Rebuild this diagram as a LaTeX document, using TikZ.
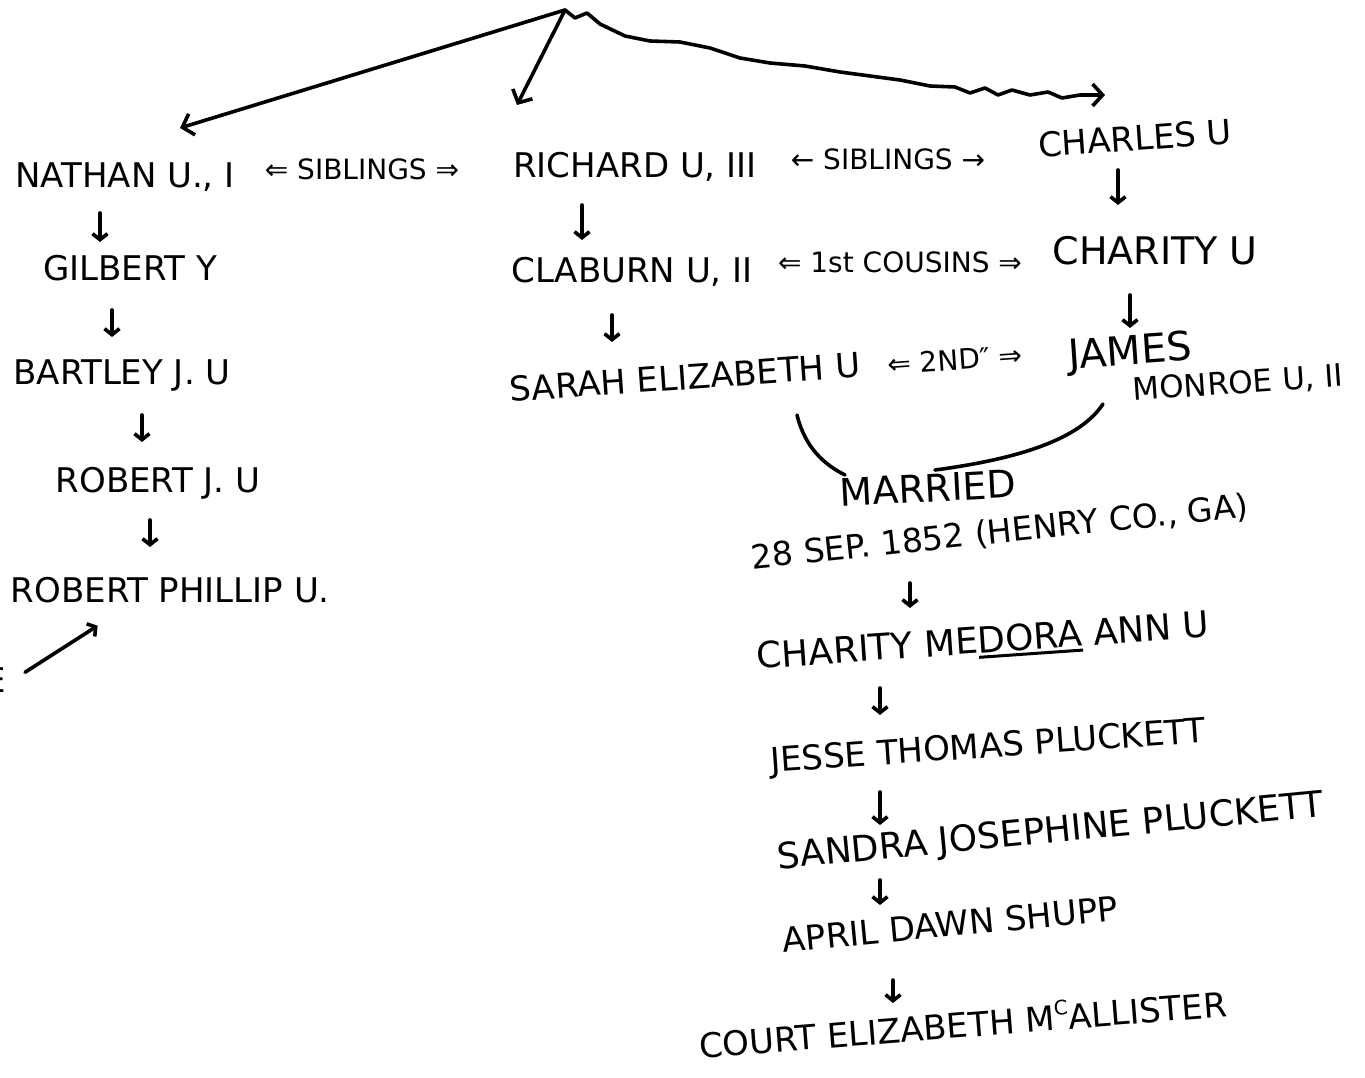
\documentclass[tikz,border=0pt]{standalone}
\usepackage{fontspec}
\setmainfont{DejaVu Sans}
\usetikzlibrary{arrows.meta,calc}
\newcommand\ulx[1]{\vtop{\hbox{#1}\kern2pt\hrule height 3pt}}
\begin{document}
\begin{tikzpicture}[x=1pt,y=-1pt,
  pen/.style={line width=3.6pt, line cap=round, line join=round},
  gen/.style={pen, -{Straight Barb[length=10pt,width=22pt]}},
  down/.style={pen, -{Straight Barb[length=6pt,width=15pt]}},
  person/.style={inner sep=0pt, font=\fontsize{34}{36}\selectfont, text height=25pt, text depth=0pt},
  rel/.style={inner sep=0pt, font=\fontsize{28}{30}\selectfont, text height=20pt, text depth=0pt}]
\useasboundingbox[fill=white] (0,0) rectangle (1365,1078);

% generation 1
\coordinate (root) at (565,10);
\node[person] (nathan) at (125,175) {NATHAN U., I};
\node[rel] (sib1) at (362,170) {⇐ SIBLINGS ⇒};
\node[person] (richard) at (635,165) {RICHARD U, III};
\node[rel] (sib2) at (888,160) {← SIBLINGS →};
\node[person, rotate=4] (charles) at (1135,138) {CHARLES U};

% left line
\node[person] (gilbert) at (130,268) {GILBERT Y};
\node[person] (bartley) at (122,372) {BARTLEY J. U};
\node[person] (robertj) at (158,480) {ROBERT J. U};
\node[person, anchor=east] (robertp) at (330,590) {ROBERT PHILLIP U.};
\node[person, anchor=east] (me) at (6,680) {ME};

% middle and right
\node[person] (claburn) at (632,270) {CLABURN U, II};
\node[rel] (cous) at (900,262) {⇐ 1st COUSINS ⇒};
\node[person, font=\fontsize{38}{40}\selectfont, text height=28pt] (charity) at (1155,250) {CHARITY U};
\node[person, rotate=4] (sarah) at (685,377) {SARAH ELIZABETH U};
\node[rel, rotate=4] (second) at (955,360) {⇐ 2ND″ ⇒};
\node[person, font=\fontsize{40}{42}\selectfont, text height=29pt, rotate=4] (james) at (1130,350) {JAMES};
\node[person, font=\fontsize{31}{33}\selectfont, text height=23pt, rotate=4] (monroe) at (1238,382) {MONROE U, II};

\node[person, font=\fontsize{38}{40}\selectfont, text height=28pt, rotate=3] (married) at (928,488) {MARRIED};
\node[person, font=\fontsize{33}{35}\selectfont, text height=24pt, rotate=6] (date) at (1000,531) {28 SEP. 1852 (HENRY CO., GA)};
\node[person, font=\fontsize{36}{38}\selectfont, text height=26pt, rotate=4] (medora) at (983,640) {CHARITY ME\ulx{DORA} ANN U};
\node[person, rotate=4] (jesse) at (988,745) {JESSE THOMAS PLUCKETT};
\node[person, font=\fontsize{36}{38}\selectfont, text height=26pt, rotate=5.5] (sandra) at (1050,830) {SANDRA JOSEPHINE PLUCKETT};
\node[person, rotate=5.5] (april) at (950,924) {APRIL DAWN SHUPP};
\node[person, rotate=4.5] (court) at (963,1025) {COURT ELIZABETH M\raisebox{0.45em}{\fontsize{20}{20}\selectfont C}ALLISTER};

% top connectors
\draw[gen] (root) -- ($(nathan.center)+(55,-47)$);
\draw[gen] (root) -- ($(richard.center)+(-118,-60)$);
\draw[gen] (root) -- (575,18) -- (587,13) -- (600,24) -- (625,36) -- (650,41) -- (680,42)
  -- (710,48) -- (740,58) -- (770,63) -- (805,66) -- (840,72) -- (870,76) -- (900,80)
  -- (930,86) -- (955,87) -- (970,93) -- (985,88) -- (998,95) -- (1012,90) -- (1030,95)
  -- (1048,92) -- (1062,98) -- (1080,95) -- ($(charles.center)+(-30,-43)$);

% descent arrows
\draw[down, shorten <=38pt, shorten >=26pt] (nathan.center -| 100,0) -- (gilbert.center -| 100,0);
\draw[down, shorten <=42pt, shorten >=35pt] (gilbert.center -| 112,0) -- (bartley.center -| 112,0);
\draw[down, shorten <=43pt, shorten >=38pt] (bartley.center -| 142,0) -- (robertj.center -| 142,0);
\draw[down, shorten <=40pt, shorten >=43pt] (robertj.center -| 150,0) -- (robertp.center -| 150,0);
\draw[down] ($(me.north east)+(19,5)$) -- ($(robertp.south west)+(87,23)$);

\draw[down, shorten <=40pt, shorten >=30pt] (richard.center -| 582,0) -- (claburn.center -| 582,0);
\draw[down, shorten <=45pt, shorten >=35pt] (claburn.center -| 612,0) -- (sarah.center -| 612,0);
\draw[down, shorten <=32pt, shorten >=45pt] (charles.center -| 1118,0) -- (charity.center -| 1118,0);
\draw[down, shorten <=45pt, shorten >=22pt] (charity.center -| 1130,0) -- (james.center -| 1130,0);

% marriage
\draw[pen] ($(sarah.center)+(112,38)$) .. controls (805,448) and (825,465) .. ($(married.center)+(-83,-13)$);
\draw[pen] ($(monroe.center)+(-135,22)$) .. controls (1078,442) and (1010,460) .. ($(married.center)+(7,-18)$);

\draw[down, shorten <=52pt, shorten >=32pt] (date.center -| 910,0) -- (medora.center -| 910,0);
\draw[down, shorten <=48pt, shorten >=30pt] (medora.center -| 880,0) -- (jesse.center -| 880,0);
\draw[down, shorten <=47pt, shorten >=5pt] (jesse.center -| 880,0) -- (sandra.center -| 880,0);
\draw[down, shorten <=50pt, shorten >=19pt] (sandra.center -| 880,0) -- (april.center -| 880,0);
\draw[down, shorten <=56pt, shorten >=22pt] (april.center -| 893,0) -- (court.center -| 893,0);
\end{tikzpicture}
\end{document}
